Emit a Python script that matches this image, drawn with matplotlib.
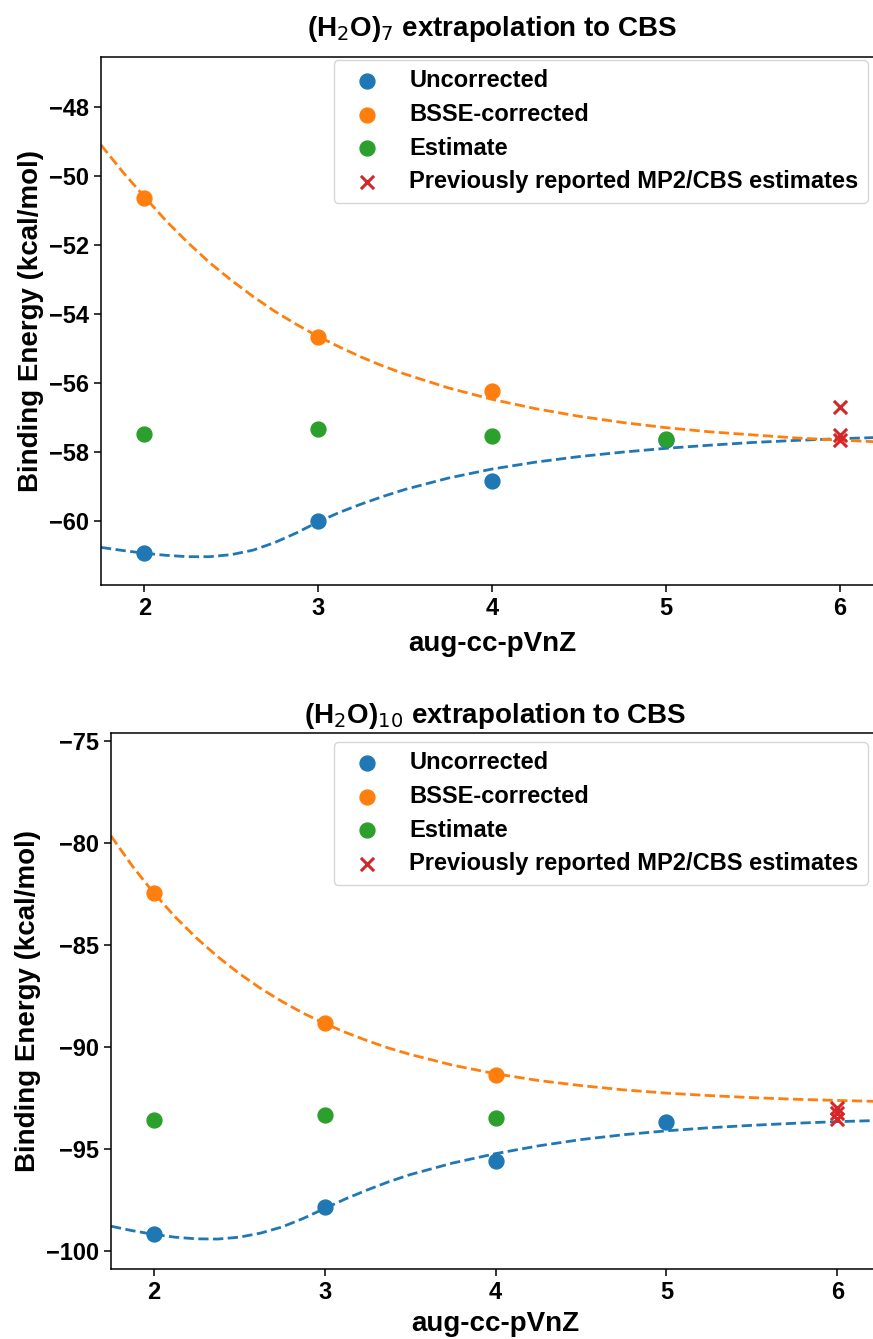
import matplotlib
matplotlib.use("Agg")
import matplotlib.pyplot as plt

plt.rcParams['font.family'] = ['Liberation Sans', 'DejaVu Sans']
plt.rcParams['font.weight'] = 'bold'
plt.rcParams['mathtext.fontset'] = 'custom'
plt.rcParams['mathtext.rm'] = 'DejaVu Sans:normal'
plt.rcParams['mathtext.it'] = 'DejaVu Sans:normal'
plt.rcParams['mathtext.bf'] = 'DejaVu Sans:normal'
plt.rcParams['mathtext.default'] = 'rm'

# ---------------- data: (H2O)7 ----------------
w7_unc_n = [2, 3, 4, 5]
w7_unc = [-60.93, -60.0, -58.84, -57.64]
w7_bsse_n = [2, 3, 4]
w7_bsse = [-50.65, -54.65, -56.24]
w7_est_n = [2, 3, 4, 5]
w7_est = [-57.48, -57.33, -57.53, -57.62]
w7_prev_n = [6, 6, 6]
w7_prev = [-56.68, -57.50, -57.65]

fit_x = [1.75, 1.875, 2.0, 2.125, 2.25, 2.375, 2.5, 2.625, 2.75, 2.875, 3.0, 3.125,
         3.25, 3.375, 3.5, 3.75, 4.0, 4.25, 4.5, 4.75, 5.0, 5.25, 5.5, 5.75, 6.0, 6.25]
w7_fit_unc = [-60.76, -60.85, -60.93, -60.99, -61.03, -61.03, -60.97, -60.84, -60.62,
              -60.34, -60.02, -59.74, -59.50, -59.28, -59.08, -58.75, -58.49, -58.29,
              -58.13, -58.00, -57.89, -57.80, -57.72, -57.66, -57.61, -57.57]
w7_fit_bsse = [-49.10, -49.88, -50.60, -51.30, -51.93, -52.51, -53.02, -53.49, -53.92,
               -54.30, -54.65, -54.96, -55.25, -55.51, -55.74, -56.14, -56.47, -56.74,
               -56.96, -57.14, -57.29, -57.41, -57.50, -57.59, -57.65, -57.71]

# ---------------- data: (H2O)10 ----------------
w10_unc_n = [2, 3, 4, 5]
w10_unc = [-99.2, -97.85, -95.6, -93.7]
w10_bsse_n = [2, 3, 4]
w10_bsse = [-82.45, -88.85, -91.4]
w10_est_n = [2, 3, 4]
w10_est = [-93.6, -93.35, -93.5]
w10_prev_n = [6, 6, 6]
w10_prev = [-93.0, -93.25, -93.55]
w10_fit_unc = [-98.80, -99.02, -99.20, -99.34, -99.42, -99.43, -99.34, -99.14, -98.84,
               -98.42, -97.93, -97.45, -97.02, -96.62, -96.27, -95.70, -95.24, -94.86,
               -94.55, -94.31, -94.12, -93.97, -93.85, -93.75, -93.67, -93.61]
w10_fit_bsse = [-79.65, -81.13, -82.45, -83.62, -84.66, -85.58, -86.40, -87.13, -87.77,
                -88.35, -88.85, -89.30, -89.70, -90.06, -90.37, -90.90, -91.32, -91.65,
                -91.90, -92.11, -92.27, -92.39, -92.49, -92.57, -92.63, -92.68]

xticks = [2, 3, 4, 5, 6]
labels = ["Uncorrected", "BSSE-corrected", "Estimate",
          "Previously reported MP2/CBS estimates"]

c_blue, c_orange, c_green, c_red = "#1f77b4", "#ff7f0e", "#2ca02c", "#d62728"

fig = plt.figure(figsize=(8.73, 13.39), dpi=100)
W, H = 873, 1339


def make_axes(left, right, top, bottom):
    return fig.add_axes([left / W, 1 - bottom / H, (right - left) / W, (bottom - top) / H])


panels = [
    dict(ax=make_axes(101, 883, 57, 585),
         title=r"(H$_2$O)$_7$ extrapolation to CBS", tpad=15, xpad=8,
         ylim=(-61.85, -46.55), yticks=[-60, -58, -56, -54, -52, -50, -48],
         unc=(w7_unc_n, w7_unc), bsse=(w7_bsse_n, w7_bsse), est=(w7_est_n, w7_est),
         prev=(w7_prev_n, w7_prev), fu=w7_fit_unc, fb=w7_fit_bsse,
         leg=(868, 60)),
    dict(ax=make_axes(111, 880, 733, 1269),
         title=r"(H$_2$O)$_{10}$ extrapolation to CBS", tpad=7, xpad=5,
         ylim=(-100.9, -74.6), yticks=[-100, -95, -90, -85, -80, -75],
         unc=(w10_unc_n, w10_unc), bsse=(w10_bsse_n, w10_bsse), est=(w10_est_n, w10_est),
         prev=(w10_prev_n, w10_prev), fu=w10_fit_unc, fb=w10_fit_bsse,
         leg=(868, 742)),
]

for p in panels:
    ax = p["ax"]
    ax.plot(fit_x, p["fu"], "--", color=c_blue, lw=2.0, zorder=1)
    ax.plot(fit_x, p["fb"], "--", color=c_orange, lw=2.0, zorder=1)
    ax.scatter(*p["unc"], s=115, color=c_blue, label=labels[0], zorder=2)
    ax.scatter(*p["bsse"], s=115, color=c_orange, label=labels[1], zorder=2)
    ax.scatter(*p["est"], s=115, color=c_green, label=labels[2], zorder=3)
    ax.scatter(*p["prev"], s=90, marker="x", color=c_red, linewidths=2.2,
               label=labels[3], zorder=4)
    ax.set_xlim(1.75, 6.25)
    ax.set_ylim(*p["ylim"])
    ax.set_xticks(xticks)
    ax.set_yticks(p["yticks"])
    ax.tick_params(labelsize=17, width=1.1, length=5)
    for lab in ax.get_xticklabels() + ax.get_yticklabels():
        lab.set_fontweight("bold")
    for sp in ax.spines.values():
        sp.set_linewidth(1.1)
    ax.set_xlabel("aug-cc-pVnZ", fontsize=20, fontweight="bold", labelpad=p["xpad"])
    ax.set_ylabel("Binding Energy (kcal/mol)", fontsize=20, fontweight="bold")
    ax.set_title(p["title"], fontsize=20, fontweight="bold", pad=p["tpad"])
    lx, ly = p["leg"]
    ax.legend(loc="upper right", bbox_to_anchor=(lx / W, 1 - ly / H),
              bbox_transform=fig.transFigure, borderaxespad=0,
              prop=dict(size=17, weight="bold"), handletextpad=0.8,
              labelspacing=0.45)

fig.savefig("out.png", dpi=100)
